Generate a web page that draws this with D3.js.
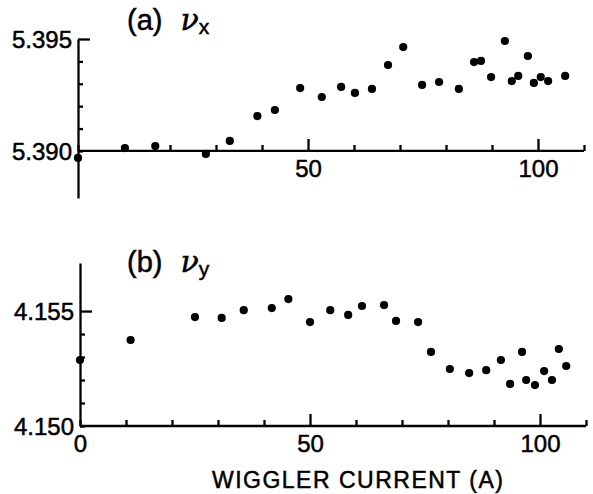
<!DOCTYPE html>
<html>
<head>
<meta charset="utf-8">
<script src="https://cdn.jsdelivr.net/npm/d3@7"></script>
<style>
  body { margin: 0; background: #fff; }
  svg text { font-family: "Liberation Sans", Arial, sans-serif; fill: #000; stroke: #000; stroke-width: 0.5px; }
</style>
</head>
<body>
<div id="chart"></div>
<script>
// wiggler current (A) and measured tunes
var currentX = [0, 10.2, 16.8, 27.8, 33, 39, 42.8, 48.3, 53, 57.2, 60.2, 63.9, 67.4, 70.7,
                74.8, 78.5, 82.8, 86.1, 87.6, 89.8, 92.8, 94.3, 95.7, 97.8, 99.1, 100.6, 102.2, 105.9];
var nuX = [5.38969, 5.39013, 5.39022, 5.38987, 5.39045, 5.39156, 5.39183, 5.39281, 5.39241, 5.39286,
           5.39259, 5.39277, 5.39384, 5.39464, 5.39295, 5.39308, 5.39277, 5.39397, 5.39402, 5.3933,
           5.39491, 5.39312, 5.39335, 5.39424, 5.39304, 5.3933, 5.39312, 5.39335];

var currentY = [0, 11, 25, 30.8, 35.6, 41.7, 45.3, 50, 54.4, 58.3, 61.3, 66.1, 68.7, 73.5, 76.3,
                80.4, 84.6, 88.3, 91.5, 93.5, 96.1, 97, 98.9, 100.9, 102.6, 104.1, 105.7];
var nuY = [4.15287, 4.15374, 4.15474, 4.1547, 4.15504, 4.15513, 4.15552, 4.15452, 4.15504, 4.15483,
           4.15522, 4.15526, 4.15457, 4.15452, 4.15322, 4.15248, 4.1523, 4.15243, 4.15287, 4.15183,
           4.15322, 4.152, 4.15178, 4.15239, 4.152, 4.15335, 4.15261];

var xTicks = [0, 10, 20, 30, 40, 50, 60, 70, 80, 90, 100, 110];
var yTicksTop = [5.390, 5.391, 5.392, 5.393, 5.394, 5.395];
var yTicksBot = [4.150, 4.151, 4.152, 4.153, 4.154, 4.155];

var width = 593, height = 494;

var svg = d3.select("#chart").append("svg")
    .attr("width", width)
    .attr("height", height);

function panel(opts) {
    var x = d3.scaleLinear().domain([0, 110]).range(opts.xRange);
    var y = d3.scaleLinear().domain(opts.yDomain).range(opts.yRange);

    // x axis, ticks pointing up
    var xa = svg.append("g")
        .attr("transform", "translate(0," + y(opts.yBase) + ")")
        .call(d3.axisBottom(x).tickValues(xTicks).tickSize(-5).tickSizeOuter(0).tickPadding(9)
            .tickFormat(function(d) { return opts.xLabels.indexOf(d) >= 0 ? d : ""; }));
    xa.selectAll(".tick line").attr("y2", function(d) { return d % 50 == 0 && d > 0 ? -12 : -6; });
    xa.selectAll("text").style("font-size", "24px");
    xa.select(".domain").attr("d", "M" + x(0) + ",0H" + x(110));

    // y axis, ticks pointing right
    var ya = svg.append("g")
        .attr("transform", "translate(" + x(0) + ",0)")
        .call(d3.axisLeft(y).tickValues(opts.yTicks).tickSize(-5).tickSizeOuter(0).tickPadding(6)
            .tickFormat(function(d, i) { return i == 0 || i == opts.yTicks.length - 1 ? d3.format(".3f")(d) : ""; }));
    ya.selectAll(".tick line").attr("x2", function(d, i) { return i == opts.yTicks.length - 1 ? 12 : 5; });
    ya.selectAll("text").style("font-size", "24px").attr("dy", "0.36em");

    svg.selectAll(".domain, .tick line").attr("stroke", "#000").attr("stroke-width", 2.3);

    // data points
    svg.append("g").selectAll("circle")
        .data(opts.xs)
        .enter().append("circle")
        .attr("cx", function(d) { return x(d); })
        .attr("cy", function(d, i) { return y(opts.ys[i]); })
        .attr("r", 4.1)
        .attr("fill", "#000");

    // panel title
    var t = svg.append("text")
        .attr("x", 127)
        .attr("y", opts.titleY)
        .style("font-size", "29px");
    t.append("tspan").text(opts.letter);
    t.append("tspan").attr("dx", 18)
        .style("font-family", "'DejaVu Serif', serif")
        .style("font-style", "italic")
        .style("font-size", "30px")
        .text("\u03bd");
    t.append("tspan").attr("dy", 4).style("font-size", "21px").text(opts.sub);
}

panel({
    xRange: [78, 584],
    yDomain: [5.3879, 5.395], yRange: [198, 39], yBase: 5.390,
    yTicks: yTicksTop, xLabels: [50, 100],
    xs: currentX, ys: nuX,
    letter: "(a)", sub: "x", titleY: 30
});

panel({
    xRange: [80, 586],
    yDomain: [4.150, 4.15709], yRange: [426, 263], yBase: 4.150,
    yTicks: yTicksBot, xLabels: [0, 50, 100],
    xs: currentY, ys: nuY,
    letter: "(b)", sub: "y", titleY: 272
});

svg.append("text")
    .attr("x", 212)
    .attr("y", 488)
    .attr("textLength", 291)
    .attr("lengthAdjust", "spacing")
    .style("font-size", "23px")
    .text("WIGGLER CURRENT (A)");
</script>
</body>
</html>
